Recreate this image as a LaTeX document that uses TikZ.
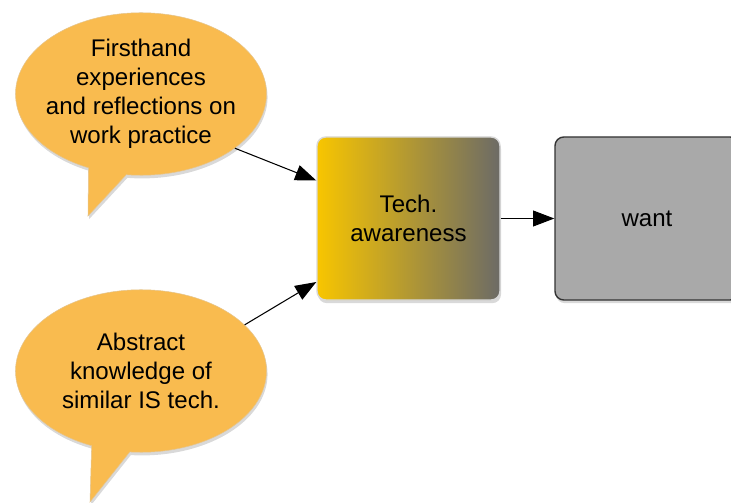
\documentclass[tikz,border=0pt]{standalone}
\usepackage{fontspec}
\setmainfont{Liberation Sans}
\usepackage{xcolor}
\usepackage{tikz}
\usetikzlibrary{calc,positioning,shapes.geometric,shapes.callouts,arrows.meta,shadows}
\definecolor{bubbleorange}{HTML}{F9BB4F}
\definecolor{techyellow}{HTML}{F8C500}
\definecolor{techgray}{HTML}{6C6B66}
\definecolor{wantgray}{HTML}{A9A9A9}
\definecolor{edgegray}{HTML}{D8D8D8}

\begin{document}
\begin{tikzpicture}[
  x=0.2mm, y=-0.2mm,
  bubble/.style={ellipse callout, fill=bubbleorange, draw=bubbleorange!85!black!60, line width=0.3pt, minimum width=5.02cm, minimum height=3.25cm, inner xsep=-3.6pt, inner ysep=0pt, callout pointer arc=18, align=center, font=\fontsize{13.7}{16.4}\selectfont, drop shadow={shadow xshift=0.6pt, shadow yshift=-1.8pt, opacity=0.3}},
  box/.style={rectangle, rounded corners=5pt, minimum width=3.66cm, minimum height=3.26cm, align=center, font=\fontsize{13.7}{16.1}\selectfont, drop shadow={shadow xshift=0.6pt, shadow yshift=-1.8pt, opacity=0.3}},
  arrow/.style={-{Triangle[length=12pt, width=9pt]}, black, line width=0.6pt}
]
  \useasboundingbox (0,0) rectangle (731,503);
  \clip (0,0) rectangle (731,503);

  % Speech bubbles
  \node[bubble, callout absolute pointer={(88,216)}] (firsthand) at (141,94) {Firsthand\\experiences\\and reflections on\\work practice};
  \node[bubble, callout absolute pointer={(90,502)}] (abstract) at (141,371) {Abstract\\knowledge of\\similar IS tech.};

  % Boxes
  \node[box, left color=techyellow, right color=techgray, draw=edgegray, line width=0.8pt] (tech) at (408.5,218.5) {Tech.\\awareness};
  \node[box, fill=wantgray, draw=black!80, line width=0.8pt, minimum width=3.68cm] (want) at (647,218.5) {want};

  \draw[arrow] (firsthand.-30) -- ([yshift=0.76cm]tech.west);
  \draw[arrow] (abstract.24) -- ([yshift=-1.27cm]tech.west);
  \draw[arrow] (tech.east) -- (want.west);
\end{tikzpicture}
\end{document}
